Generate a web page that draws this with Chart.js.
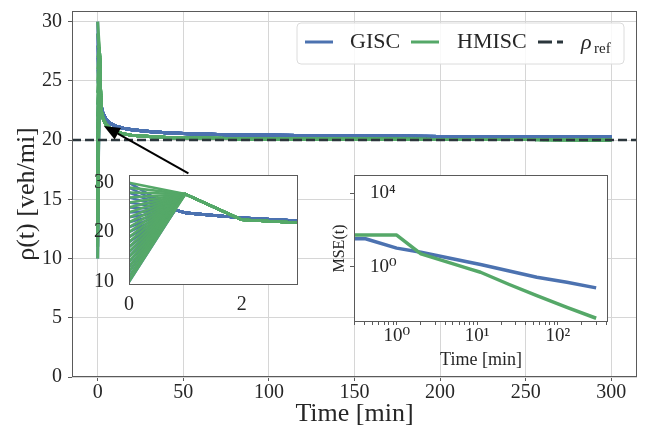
<!DOCTYPE html>
<html><head><meta charset="utf-8">
<script src="https://cdn.jsdelivr.net/npm/chart.js@4.4.1/dist/chart.umd.min.js"></script>
<style>
html,body{margin:0;padding:0;background:#fff;}
#wrap{position:relative;width:649px;height:436px;overflow:hidden;}
canvas{position:absolute;}
#main{left:0;top:0;width:649px;height:436px;}
#inset1{left:90px;top:165px;width:220px;height:150px;}
#inset2{left:300px;top:165px;width:320px;height:215px;}
</style></head><body>
<div id="wrap">
<canvas id="main" width="649" height="436"></canvas>
<canvas id="inset1" width="220" height="150"></canvas>
<canvas id="inset2" width="320" height="215"></canvas>
</div>
<script>
// ---------- data ----------
const initialDensities = [10,11,12,13,14,15,16,17,18,19,20,21,22,23,24,25,26,27,28,29,30];
const giscTime    = [0.82,1,1.5,2,3,4,5,7,10,15,20,30,40,50,75,100,150,200,250,300];
const giscDensity = [24.5,23.9,23.4,22.9,22.3,22.0,21.75,21.45,21.2,21.0,20.88,20.72,20.62,20.55,20.46,20.41,20.35,20.31,20.28,20.26];
const hmiscTime    = [1,2,3,4,5,7,10,15,20,30,40,50,75,100,150,200,250,300];
const hmiscDensity = [27.7,22.5,21.9,21.55,21.3,21.0,20.75,20.52,20.42,20.3,20.22,20.18,20.13,20.1,20.08,20.06,20.05,20.04];
const refDensity = 20;
const mseTimeGisc  = [0.3,0.41,1,2,8,11,25,55,130,300];
const mseGisc      = [34,34,10.5,6.3,1.8,1.35,0.6,0.275,0.145,0.072];
const mseTimeHmisc = [0.3,1,2,8,11,25,55,130,300];
const mseHmisc     = [54,54,5.1,0.78,0.51,0.11,0.0275,0.0063,0.0016];
const mainXTicks = [0,50,100,150,200,250,300];
const mainYTicks = [0,5,10,15,20,25,30];
const inset1XTicks = [0,2];
const inset1YTicks = [10,20,30];
const inset2XMajor = [1,10,100];
const inset2XMinor = [0.3,0.4,0.5,0.6,0.7,0.8,0.9,2,3,4,5,6,7,8,9,20,30,40,50,60,70,80,90,200,300,400];
const inset2YTicks = [1,10000];
const arrowTail = [53,17.2];
const arrowHead = [3.6,21.2];
const seriesNames = ['GISC','HMISC'];

// ---------- styles ----------
const BLUE='#4C72B0', GREEN='#55A868', REF='#2B363C', TXT='#262626', GRID='#d6d6d6', SPINE='#5a5a5a';
const FAM='"Liberation Serif", "DejaVu Serif", serif';
const SUP={'0':'\u2070','1':'\u00B9','2':'\u00B2','3':'\u00B3','4':'\u2074'};

function traj(times, values){
  return initialDensities.map(v => [{x:0,y:v}].concat(times.map((t,i)=>({x:t,y:values[i]}))));
}
function lineSets(times, values, color, width){
  return traj(times, values).map(d => ({data:d, borderColor:color, borderWidth:width, pointRadius:0, tension:0, borderJoinStyle:'round', fill:false}));
}
function setTicks(arr){ return s => { s.ticks = arr.map(v => ({value:v})); }; }
function fixY(w){ return s => { s.width=w; s.paddingTop=0; s.paddingBottom=0; }; }
function fixX(h){ return s => { s.height=h; s.paddingLeft=0; s.paddingRight=0; }; }

const framePlugin = (bg) => ({
  id:'frame',
  beforeDraw(chart){
    if(!bg) return;
    const a=chart.chartArea, c=chart.ctx;
    c.save(); c.fillStyle='#fff'; c.fillRect(a.left,a.top,a.right-a.left,a.bottom-a.top); c.restore();
  },
  afterDatasetsDraw(chart){
    const a=chart.chartArea, c=chart.ctx;
    c.save(); c.strokeStyle=SPINE; c.lineWidth=1;
    c.strokeRect(Math.round(a.left)+0.5, Math.round(a.top)+0.5, Math.round(a.right-a.left)-1, Math.round(a.bottom-a.top)-1);
    c.restore();
  }
});

const arrowPlugin = {
  id:'arrow',
  afterDatasetsDraw(chart){
    const xs=chart.scales.x, ys=chart.scales.y, c=chart.ctx;
    const x0=xs.getPixelForValue(arrowTail[0]), y0=ys.getPixelForValue(arrowTail[1]);
    const x1=xs.getPixelForValue(arrowHead[0]), y1=ys.getPixelForValue(arrowHead[1]);
    const ang=Math.atan2(y1-y0,x1-x0), L=16, W=6.5;
    const bx=x1-L*Math.cos(ang), by=y1-L*Math.sin(ang);
    c.save();
    c.strokeStyle='#000'; c.fillStyle='#000'; c.lineWidth=2;
    c.beginPath(); c.moveTo(x0,y0); c.lineTo(bx,by); c.stroke();
    c.beginPath(); c.moveTo(x1,y1);
    c.lineTo(bx+W*Math.sin(ang), by-W*Math.cos(ang));
    c.lineTo(bx-W*Math.sin(ang), by+W*Math.cos(ang));
    c.closePath(); c.fill();
    c.restore();
  }
};

const legendPlugin = {
  id:'customLegend',
  afterDraw(chart){
    const a=chart.chartArea, c=chart.ctx;
    const w=327, h=41, r=4;
    const L=a.right-13-w, T=a.top+12;
    c.save();
    c.beginPath();
    c.moveTo(L+r,T); c.lineTo(L+w-r,T); c.quadraticCurveTo(L+w,T,L+w,T+r);
    c.lineTo(L+w,T+h-r); c.quadraticCurveTo(L+w,T+h,L+w-r,T+h);
    c.lineTo(L+r,T+h); c.quadraticCurveTo(L,T+h,L,T+h-r);
    c.lineTo(L,T+r); c.quadraticCurveTo(L,T,L+r,T); c.closePath();
    c.fillStyle='rgba(255,255,255,0.85)'; c.fill();
    c.strokeStyle='#dcdcdc'; c.lineWidth=1; c.stroke();
    const ly=T+19, by=T+25;
    c.lineWidth=3;
    c.strokeStyle=BLUE; c.beginPath(); c.moveTo(L+8,ly); c.lineTo(L+36,ly); c.stroke();
    c.strokeStyle=GREEN; c.beginPath(); c.moveTo(L+114,ly); c.lineTo(L+142,ly); c.stroke();
    c.strokeStyle=REF; c.setLineDash([14,5]); c.beginPath(); c.moveTo(L+241,ly); c.lineTo(L+266,ly); c.stroke();
    c.setLineDash([]);
    c.fillStyle=TXT; c.textBaseline='alphabetic';
    c.font='22px '+FAM;
    c.fillText(seriesNames[0], L+53, by);
    c.fillText(seriesNames[1], L+160, by);
    c.font='italic 22px '+FAM;
    c.fillText('\u03C1', L+284, by+1);
    c.font='15px '+FAM;
    c.fillText('ref', L+297, by+5);
    c.restore();
  }
};

// Chart.js draws dataset 0 last (on top): order = ref, green, blue
// ---------- main chart ----------
new Chart(document.getElementById('main'), {
  type:'line',
  data:{datasets:[
    {data:[{x:-15,y:refDensity},{x:315,y:refDensity}], borderColor:REF, borderWidth:2.5, borderDash:[9,4], pointRadius:0, tension:0},
    ...lineSets(hmiscTime, hmiscDensity, GREEN, 3),
    ...lineSets(giscTime, giscDensity, BLUE, 3)
  ]},
  options:{
    responsive:false, animation:false, devicePixelRatio:1,
    layout:{padding:{top:11,right:12,left:0,bottom:0}},
    plugins:{legend:{display:false}, tooltip:{enabled:false}},
    scales:{
      x:{type:'linear', min:-15, max:315, afterBuildTicks:setTicks(mainXTicks), afterFit:fixX(59),
         grid:{color:GRID, tickColor:SPINE, tickLength:4, drawTicks:true}, border:{display:false},
         ticks:{font:{family:FAM,size:20}, color:TXT, padding:0, maxRotation:0, autoSkip:false},
         title:{display:true, text:'Time [min]', font:{family:FAM,size:26}, color:TXT, padding:{top:0,bottom:6}}},
      y:{type:'linear', min:0, max:30.9, afterBuildTicks:setTicks(mainYTicks), afterFit:fixY(72),
         grid:{color:GRID, tickColor:SPINE, tickLength:4, drawTicks:true}, border:{display:false},
         ticks:{font:{family:FAM,size:20}, color:TXT, padding:6, autoSkip:false},
         title:{display:true, text:'\u03C1(t) [veh/mi]', font:{family:FAM,size:26}, color:TXT, padding:{top:12,bottom:0}}}
    }
  },
  plugins:[framePlugin(false), arrowPlugin, legendPlugin]
});

// ---------- inset 1: early transient ----------
new Chart(document.getElementById('inset1'), {
  type:'line',
  data:{datasets:[
    ...lineSets(hmiscTime, hmiscDensity, GREEN, 2.6),
    ...lineSets(giscTime, giscDensity, BLUE, 2.6)
  ]},
  options:{
    responsive:false, animation:false, devicePixelRatio:1,
    layout:{padding:{top:10,right:12,left:0,bottom:0}},
    plugins:{legend:{display:false}, tooltip:{enabled:false}},
    scales:{
      x:{type:'linear', min:0, max:3, afterBuildTicks:setTicks(inset1XTicks), afterFit:fixX(30),
         grid:{display:false}, border:{display:false},
         ticks:{font:{family:FAM,size:20}, color:TXT, padding:0, maxRotation:0, autoSkip:false}},
      y:{type:'linear', min:9.33, max:31.55, afterBuildTicks:setTicks(inset1YTicks), afterFit:fixY(39),
         grid:{display:false}, border:{display:false},
         ticks:{font:{family:FAM,size:20}, color:TXT, padding:7, autoSkip:false}}
    }
  },
  plugins:[framePlugin(true)]
});

// ---------- inset 2: MSE ----------
new Chart(document.getElementById('inset2'), {
  type:'line',
  data:{datasets:[
    {data:mseTimeHmisc.map((t,i)=>({x:t,y:mseHmisc[i]})), borderColor:GREEN, borderWidth:3.5, pointRadius:0, tension:0, borderJoinStyle:'round'},
    {data:mseTimeGisc.map((t,i)=>({x:t,y:mseGisc[i]})), borderColor:BLUE, borderWidth:3.5, pointRadius:0, tension:0, borderJoinStyle:'round'}
  ]},
  options:{
    responsive:false, animation:false, devicePixelRatio:1,
    layout:{padding:{top:10,right:12,left:0,bottom:0}},
    plugins:{legend:{display:false}, tooltip:{enabled:false}},
    scales:{
      x:{type:'logarithmic', min:0.295, max:421,
         afterBuildTicks:s=>{ s.ticks = inset2XMajor.concat(inset2XMinor).sort((a,b)=>a-b).map(v=>({value:v})); },
         afterFit:fixX(58),
         grid:{drawOnChartArea:false, drawTicks:true, tickLength:3, tickColor:SPINE}, border:{display:false},
         ticks:{font:{family:FAM,size:19}, color:TXT, padding:0, maxRotation:0, autoSkip:false,
                callback:v => inset2XMajor.includes(v) ? '10'+SUP[String(Math.round(Math.log10(v)))] : ''},
         title:{display:true, text:'Time [min]', font:{family:FAM,size:18}, color:TXT, padding:{top:0,bottom:9}}},
      y:{type:'logarithmic', min:1e-3, max:1e5, afterBuildTicks:setTicks(inset2YTicks), afterFit:fixY(54),
         grid:{drawOnChartArea:false, drawTicks:true, tickLength:4, tickColor:SPINE}, border:{display:false},
         ticks:{font:{family:FAM,size:19}, color:TXT, mirror:true, padding:16, autoSkip:false,
                callback:v => '10'+SUP[String(Math.round(Math.log10(v)))]},
         title:{display:true, text:'MSE(t)', font:{family:FAM,size:16}, color:TXT, padding:{top:30,bottom:0}}}
    }
  },
  plugins:[framePlugin(true)]
});
</script>
</body></html>
